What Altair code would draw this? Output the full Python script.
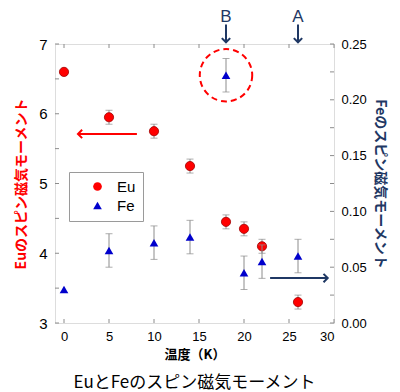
import altair as alt
import pandas as pd

# ---------------- data ----------------
temps = [0, 5, 10, 14, 18, 20, 22, 26]
eu_moment = [6.6, 5.95, 5.75, 5.25, 4.45, 4.35, 4.1, 3.3]
eu_error = [0, 0.1, 0.1, 0.1, 0.1, 0.1, 0.1, 0.1]
fe_moment = [0.03, 0.065, 0.072, 0.077, 0.222, 0.045, 0.055, 0.060]
fe_error = [0, 0.015, 0.015, 0.015, 0.015, 0.015, 0.015, 0.015]
series_names = ["Eu", "Fe"]

x_ticks = [0, 5, 10, 15, 20, 25, 30]
eu_ticks = [3, 3.5, 4, 4.5, 5, 5.5, 6, 6.5, 7]
fe_ticks = [0, 0.025, 0.05, 0.075, 0.1, 0.125, 0.15, 0.175, 0.2, 0.225, 0.25]

marker_labels = ["B", "A"]
marker_temps = [18, 26]
marker_label_y = [0.2745, 0.2745]
marker_arrow_top = [0.2675, 0.2675]
marker_arrow_tip = [0.2515, 0.2515]

highlight_T = [18]
highlight_fe = [0.222]

eu_arrow_x = [8.1]
eu_arrow_x2 = [1.55]
eu_arrow_y = [5.71]
fe_arrow_x = [22.9]
fe_arrow_x2 = [29.3]
fe_arrow_y = [0.0403]

RED = "#ff0000"
NAVY = "#1f3864"
BLUE = "#0000cc"
GRAY = "#8c8c8c"
JP = "Noto Sans CJK JP"
LAT = "Liberation Sans"

eu_df = pd.DataFrame({"T": temps, "v": eu_moment, "e": eu_error})
eu_df["lo"] = eu_df["v"] - eu_df["e"]
eu_df["hi"] = eu_df["v"] + eu_df["e"]
eu_df["series"] = "Eu"
fe_df = pd.DataFrame({"T": temps, "v": fe_moment, "e": fe_error})
fe_df["lo"] = fe_df["v"] - fe_df["e"]
fe_df["hi"] = fe_df["v"] + fe_df["e"]
fe_df["series"] = "Fe"
eu_err_df = eu_df[eu_df["e"] > 0]
fe_err_df = fe_df[fe_df["e"] > 0]

W = 279
H = 279

x_scale = alt.Scale(domain=[-1, 30], nice=False, zero=False)
eu_scale = alt.Scale(domain=[3, 7], nice=False, zero=False)
fe_scale = alt.Scale(domain=[0, 0.25], nice=False, zero=False)

x_axis = alt.Axis(values=x_ticks, title="温度（K）", grid=False, ticks=False,
                  domain=False, labelFont=LAT, labelFontSize=13, labelColor="black",
                  labelPadding=7, titleFont=JP, titleFontSize=13, titleFontWeight="bold",
                  titleColor="black", titlePadding=5)
eu_axis = alt.Axis(values=[3, 4, 5, 6, 7], format="d", title="Euのスピン磁気モーメント",
                   grid=False, ticks=False, domain=False, labelFont=LAT, labelFontSize=15,
                   labelColor="black", labelPadding=8, titleFont=JP, titleFontSize=14,
                   titleFontWeight="bold", titleColor=RED, titlePadding=10, orient="left")
fe_axis = alt.Axis(values=[0, 0.05, 0.1, 0.15, 0.2, 0.25], format=".2f",
                   title="Feのスピン磁気モーメント", grid=False, ticks=False, domain=False,
                   labelFont=LAT, labelFontSize=13, labelColor="black", labelPadding=7,
                   titleFont=JP, titleFontSize=14, titleFontWeight="bold", titleColor=NAVY,
                   titlePadding=6, orient="right")

X = lambda f="T": alt.X(f"{f}:Q", scale=x_scale, axis=x_axis)
YE = lambda f="v": alt.Y(f"{f}:Q", scale=eu_scale, axis=eu_axis)
YF = lambda f="v": alt.Y(f"{f}:Q", scale=fe_scale, axis=fe_axis)

color = alt.Color("series:N", scale=alt.Scale(domain=series_names, range=[RED, BLUE]),
                  legend=alt.Legend(title=None, orient="none", legendX=14, legendY=128,
                                    strokeColor="#9a9a9a", fillColor="white", padding=7,
                                    symbolOffset=14, labelFont=LAT, labelFontSize=15,
                                    labelOffset=12, rowPadding=3, symbolSize=75,
                                    symbolStrokeWidth=0))
shape = alt.Shape("series:N", scale=alt.Scale(domain=series_names,
                                              range=["circle", "triangle-up"]),
                  legend=alt.Legend(title=None))

# -------- Eu layers --------
eu_base = alt.Chart(eu_df)
eu_err = alt.Chart(eu_err_df).mark_rule(color=GRAY, strokeWidth=1).encode(
    x=X(), y=YE("lo"), y2="hi")
eu_cap_lo = alt.Chart(eu_err_df).mark_tick(color=GRAY, size=7, thickness=1,
                                           orient="horizontal").encode(x=X(), y=YE("lo"))
eu_cap_hi = alt.Chart(eu_err_df).mark_tick(color=GRAY, size=7, thickness=1,
                                           orient="horizontal").encode(x=X(), y=YE("hi"))
eu_pts = eu_base.mark_point(filled=True, size=85, stroke="#a00000", strokeWidth=0.8,
                            opacity=1).encode(x=X(), y=YE(), color=color, shape=shape)

xt_df = pd.DataFrame({"t": x_ticks})
x_tick_bottom = alt.Chart(xt_df).mark_rule(color=GRAY).encode(
    x=X("t"), y=alt.value(H), y2=alt.value(H - 4))
x_tick_top = alt.Chart(xt_df).mark_rule(color=GRAY).encode(
    x=X("t"), y=alt.value(0), y2=alt.value(4))
eu_tick = alt.Chart(pd.DataFrame({"t": eu_ticks})).mark_rule(color=GRAY).encode(
    y=YE("t"), x=alt.value(0), x2=alt.value(4))

eu_arrow_df = pd.DataFrame({"x": eu_arrow_x, "x2": eu_arrow_x2, "y": eu_arrow_y})
eu_arrow = alt.Chart(eu_arrow_df).mark_rule(color=RED, strokeWidth=2).encode(
    x=X("x"), x2="x2", y=YE("y"))
eu_head = alt.Chart(eu_arrow_df).mark_point(shape="M1,-1L0,0L1,1", size=70, filled=False,
                                            color=RED, strokeWidth=2, opacity=1).encode(
    x=X("x2"), y=YE("y"))

eu_group = alt.layer(eu_err, eu_cap_lo, eu_cap_hi, x_tick_bottom, x_tick_top, eu_tick,
                     eu_arrow, eu_head, eu_pts)

# -------- Fe layers --------
fe_err = alt.Chart(fe_err_df).mark_rule(color=GRAY, strokeWidth=1).encode(
    x=X(), y=YF("lo"), y2="hi")
fe_cap_lo = alt.Chart(fe_err_df).mark_tick(color=GRAY, size=7, thickness=1,
                                           orient="horizontal").encode(x=X(), y=YF("lo"))
fe_cap_hi = alt.Chart(fe_err_df).mark_tick(color=GRAY, size=7, thickness=1,
                                           orient="horizontal").encode(x=X(), y=YF("hi"))
fe_pts = alt.Chart(fe_df).mark_point(filled=True, size=75, opacity=1).encode(
    x=X(), y=YF(), color=color, shape=shape)
fe_tick = alt.Chart(pd.DataFrame({"t": fe_ticks})).mark_rule(color=GRAY).encode(
    y=YF("t"), x=alt.value(W), x2=alt.value(W - 4))

circle = alt.Chart(pd.DataFrame({"T": highlight_T, "v": highlight_fe})).mark_point(
    shape="circle", size=2750, filled=False, color=RED, strokeWidth=2,
    strokeDash=[6, 4], opacity=1).encode(x=X(), y=YF())

fe_arrow_df = pd.DataFrame({"x": fe_arrow_x, "x2": fe_arrow_x2, "y": fe_arrow_y})
fe_arrow = alt.Chart(fe_arrow_df).mark_rule(color=NAVY, strokeWidth=2).encode(
    x=X("x"), x2="x2", y=YF("y"))
fe_head = alt.Chart(fe_arrow_df).mark_point(shape="M-1,-1L0,0L-1,1", size=70, filled=False,
                                            color=NAVY, strokeWidth=2, opacity=1).encode(
    x=X("x2"), y=YF("y"))

mk_df = pd.DataFrame({"T": marker_temps, "lab": marker_labels, "ly": marker_label_y,
                      "a1": marker_arrow_top, "a2": marker_arrow_tip})
mk_text = alt.Chart(mk_df).mark_text(font=LAT, fontSize=17, color=NAVY,
                                     baseline="middle").encode(
    x=X(), y=YF("ly"), text="lab:N")
mk_shaft = alt.Chart(mk_df).mark_rule(color=NAVY, strokeWidth=2).encode(
    x=X(), y=YF("a1"), y2="a2")
mk_head = alt.Chart(mk_df).mark_point(shape="M-1,-1L0,0L1,-1", size=70, filled=False,
                                      color=NAVY, strokeWidth=2, opacity=1).encode(
    x=X(), y=YF("a2"))

fe_group = alt.layer(fe_err, fe_cap_lo, fe_cap_hi, fe_tick, circle, fe_arrow, fe_head,
                     mk_shaft, mk_head, mk_text, fe_pts)

chart = alt.layer(eu_group, fe_group).resolve_scale(y="independent").properties(
    width=W, height=H,
    padding={"left": 47, "top": 36, "right": 58, "bottom": 69},
    autosize=alt.AutoSizeParams(type="none"),
    title=alt.TitleParams("EuとFeのスピン磁気モーメント", orient="bottom", anchor="middle",
                          font=JP, fontSize=17, fontWeight="normal", color="black",
                          offset=14),
).configure_view(stroke="#999999", strokeWidth=1.5).configure(background="white")

chart.save("out.html", embed_options={"renderer": "svg", "actions": False})
